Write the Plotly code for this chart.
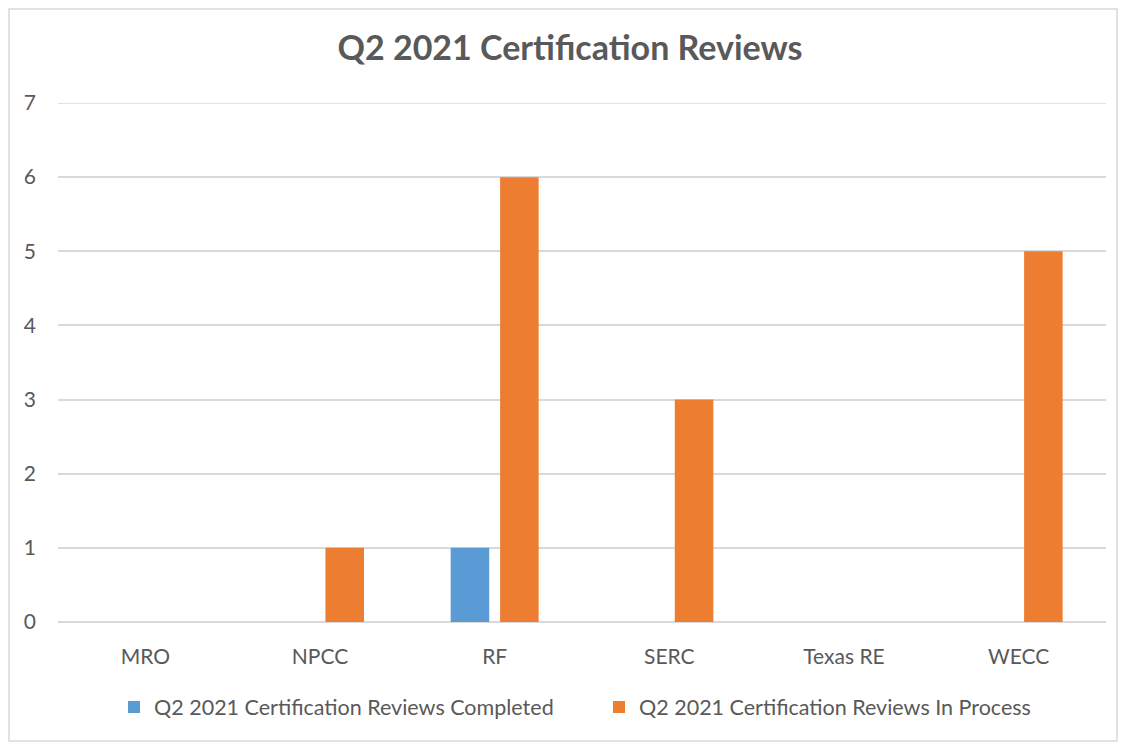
import plotly.graph_objects as go

categories = ["MRO", "NPCC", "RF", "SERC", "Texas RE", "WECC"]
completed = [0, 0, 1, 0, 0, 0]
in_process = [0, 1, 6, 3, 0, 5]
series_names = ["Q2 2021 Certification Reviews Completed",
                "Q2 2021 Certification Reviews In Process"]
y_ticks = [0, 1, 2, 3, 4, 5, 6, 7]

FONT = "Lato, Open Sans, sans-serif"
GRAY = "#595959"
GRID = "#D9D9D9"

fig = go.Figure()
fig.add_trace(go.Bar(x=categories, y=completed, name=series_names[0],
                     marker=dict(color="#5B9BD5", line=dict(width=0))))
fig.add_trace(go.Bar(x=categories, y=in_process, name=series_names[1],
                     marker=dict(color="#ED7D31", line=dict(width=0))))

# page has an 8px body margin; figure coordinates = page coordinates - 8
W, H = 1122, 737
ml, mr, mt, mb = 50, 24, 95, 123
pw, ph = W - ml - mr, H - mt - mb

fig.update_layout(
    width=W, height=H,
    margin=dict(l=ml, r=mr, t=mt, b=mb),
    paper_bgcolor="white", plot_bgcolor="white",
    barmode="group", bargap=0.434, bargroupgap=0.22,
    font=dict(family=FONT, color=GRAY, size=21),
    title=dict(text="<b>Q2 2021 Certification Reviews</b>",
               x=562 / W, xanchor="center", y=1 - 40 / H, yanchor="middle",
               font=dict(family=FONT, size=34, color=GRAY)),
    legend=dict(orientation="h", x=(106 - ml) / pw, xanchor="left",
                y=-85 / ph, yanchor="middle",
                font=dict(family=FONT, size=21.5, color=GRAY),
                itemwidth=30, entrywidth=440, traceorder="normal"),
    xaxis=dict(showgrid=False, showline=False, zeroline=False,
               ticks="", ticklabelstandoff=20,
               tickfont=dict(family=FONT, size=21, color=GRAY)),
    yaxis=dict(range=[0, 7], tickvals=y_ticks, showgrid=True,
               gridcolor=GRID, gridwidth=1.5, zeroline=True,
               zerolinecolor=GRID, zerolinewidth=1.5,
               showline=False, ticks="", ticklabelstandoff=21,
               tickfont=dict(family=FONT, size=21, color=GRAY)),
    shapes=[dict(type="rect", xref="paper", yref="paper",
                 x0=(1 - ml) / pw, x1=(1109 - ml) / pw,
                 y0=-(733 - (H - mb)) / ph, y1=((H - mb) - 1) / ph,
                 line=dict(color=GRID, width=1.5),
                 fillcolor="rgba(0,0,0,0)", layer="below"),
            dict(type="line", xref="paper", yref="y", x0=0, x1=1,
                 y0=y_ticks[-1], y1=y_ticks[-1],
                 line=dict(color=GRID, width=1.5), layer="below")],
)

fig.write_html("out.html")
